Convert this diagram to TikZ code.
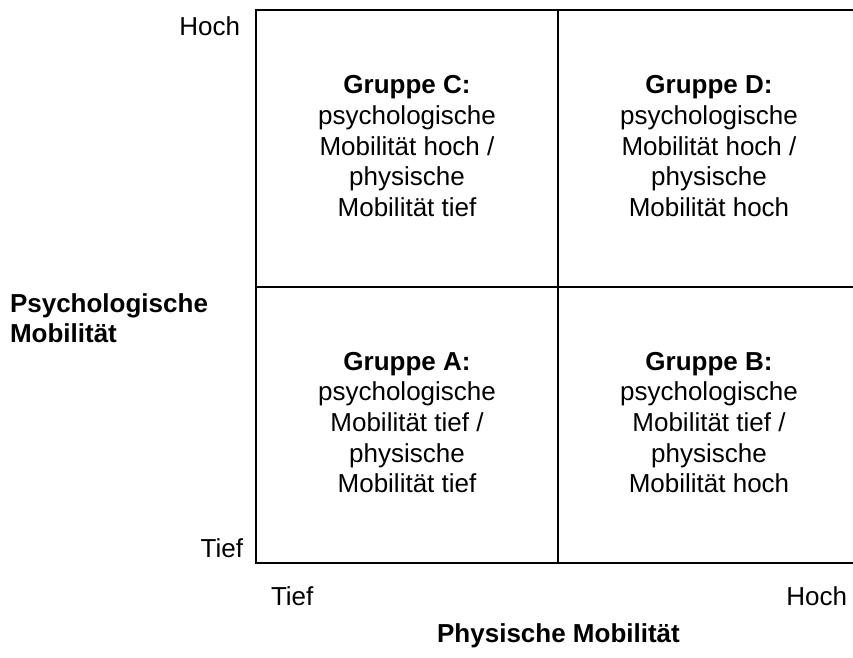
\documentclass[tikz,border=0pt]{standalone}
\usepackage{fontspec}
\setmainfont{Liberation Sans}
\newcommand{\lowstrut}{\rule[-5pt]{0pt}{5pt}}
\begin{document}
\begin{tikzpicture}[x=1pt,y=-1pt,
  txt/.style={font=\fontsize{26}{30.7}\selectfont, inner sep=0pt, outer sep=0pt},
  cellbox/.style={txt, draw=black, line width=2pt, align=center,
    minimum width=302pt, minimum height=277pt},
  axislbl/.style={txt, font=\fontsize{26}{30.7}\selectfont\bfseries}
]
\useasboundingbox (0,0) rectangle (853,657);
\clip (0,0) rectangle (853,657);

\node[cellbox] (C) at (407,148.5) {\textbf{Gruppe C:}\\psychologische\\Mobilität hoch /\\physische\\Mobilität tief\lowstrut};
\node[cellbox] (D) at (709,148.5) {\textbf{Gruppe D:}\\psychologische\\Mobilität hoch /\\physische\\Mobilität hoch\lowstrut};
\node[cellbox, minimum height=276pt] (A) at (407,425) {\textbf{Gruppe A:}\\psychologische\\Mobilität tief /\\physische\\Mobilität tief\lowstrut};
\node[cellbox, minimum height=276pt] (B) at (709,425) {\textbf{Gruppe B:}\\psychologische\\Mobilität tief /\\physische\\Mobilität hoch\lowstrut};

\node[txt, anchor=base east] (yhoch) at (240,35) {Hoch};
\node[txt, anchor=base east] (ytief) at (243,557) {Tief};
\node[txt, anchor=base west] (xtief) at (271,605) {Tief};
\node[txt, anchor=base east] (xhoch) at (847,605) {Hoch};
\node[axislbl, anchor=base] (xlabel) at (558.5,642) {Physische Mobilität};
\node[axislbl, align=left, anchor=north west] (ylabel) at (10,292) {\rule{0pt}{20pt}Psychologische\\Mobilität};
\end{tikzpicture}
\end{document}
